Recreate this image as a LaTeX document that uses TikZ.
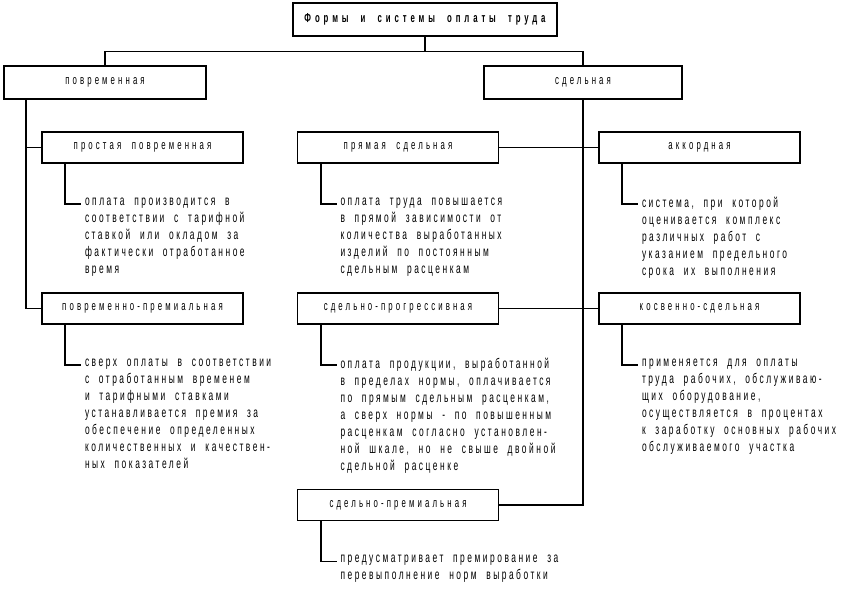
\documentclass[tikz,border=0pt]{standalone}
\usepackage{fontspec}
\setmainfont{Liberation Sans}[FakeStretch=0.6,LetterSpace=18,WordSpace=2]
\newfontfamily\boxfont{Liberation Sans}[FakeStretch=0.6,LetterSpace=24,WordSpace=2]
\newfontfamily\titlefont{Liberation Sans}[FakeStretch=0.6,LetterSpace=30,WordSpace=2]
\usetikzlibrary{positioning}

\begin{document}
\begin{tikzpicture}[x=1pt,y=1pt,line width=1.6pt,node distance=161pt,
  box/.style={draw,rectangle,minimum width=201pt,minimum height=31pt,
    inner sep=0pt,font=\boxfont\fontsize{13}{17}\selectfont},
  desc/.style={align=left,inner sep=0pt,anchor=north west,
    font=\fontsize{14}{17}\selectfont}]
  \useasboundingbox (0,0) rectangle (848,-589);
  \node[box,minimum width=264pt,minimum height=33pt,
    font=\titlefont\bfseries\fontsize{13}{17}\selectfont] (forms) at (425,-19.5) {Формы и системы оплаты труда};
  \node[box,minimum width=202pt,minimum height=33pt] (pov) at (105,-82.5) {повременная};
  \node[box,minimum width=198pt,minimum height=33pt] (sdel) at (583,-82.5) {сдельная};
  \node[box] (prost) at (142.5,-147.5) {простая повременная};
  \node[box] (povprem) [below of=prost] {повременно-премиальная};
  \node[box] (pryam) [right of=prost,node distance=255.5pt] {прямая сдельная};
  \node[box] (sprog) [below of=pryam] {сдельно-прогрессивная};
  \node[box] (sprem) [below of=sprog,node distance=196.5pt] {сдельно-премиальная};
  \node[box] (akk) [right of=pryam,node distance=301.5pt] {аккордная};
  \node[box] (kosv) [below of=akk] {косвенно-сдельная};

  \node[desc] (dprost) [below right=33pt and 43pt of prost.south west]
    {оплата производится в\\соответствии с тарифной\\ставкой или окладом за\\фактически отработанное\\время};
  \node[desc] (dpovprem) [below right=33pt and 43pt of povprem.south west]
    {сверх оплаты в соответствии\\с отработанным временем\\и тарифными ставками\\устанавливается премия за\\обеспечение определенных\\количественных и качествен-\\ных показателей};
  \node[desc] (dpryam) [below right=33pt and 43pt of pryam.south west]
    {оплата труда повышается\\в прямой зависимости от\\количества выработанных\\изделий по постоянным\\сдельным расценкам};
  \node[desc] (dsprog) [below right=33pt and 43pt of sprog.south west]
    {оплата продукции, выработанной\\в пределах нормы, оплачивается\\по прямым сдельным расценкам,\\а сверх нормы - по повышенным\\расценкам согласно установлен-\\ной шкале, но не свыше двойной\\сдельной расценке};
  \node[desc] (dsprem) [below right=33pt and 43pt of sprem.south west]
    {предусматривает премирование за\\перевыполнение норм выработки};
  \node[desc] (dakk) [below right=33pt and 43pt of akk.south west]
    {система, при которой\\оценивается комплекс\\различных работ с\\указанием предельного\\срока их выполнения};
  \node[desc] (dkosv) [below right=33pt and 43pt of kosv.south west]
    {применяется для оплаты\\труда рабочих, обслуживаю-\\щих оборудование,\\осуществляется в процентах\\к заработку основных рабочих\\обслуживаемого участка};

  \coordinate (split) at ([yshift=-14.5pt]forms.south);
  \draw (forms.south) -- (split) -| (pov.north);
  \draw (split) -| (sdel.north);
  \draw ([xshift=23pt]pov.south west) |- (povprem.west);
  \draw ([xshift=23pt]pov.south west |- prost.west) -- (prost.west);
  \draw (sdel.south) |- (sprem.east);
  \draw (pryam.east) -- (akk.west);
  \draw (sprog.east) -- (kosv.west);
  \foreach \b/\d in {prost/dprost,povprem/dpovprem,pryam/dpryam,
      sprog/dsprog,sprem/dsprem,akk/dakk,kosv/dkosv}
    \draw ([xshift=24pt]\b.south west) |- ([xshift=-3pt,yshift=-7pt]\d.north west);
\end{tikzpicture}
\end{document}
